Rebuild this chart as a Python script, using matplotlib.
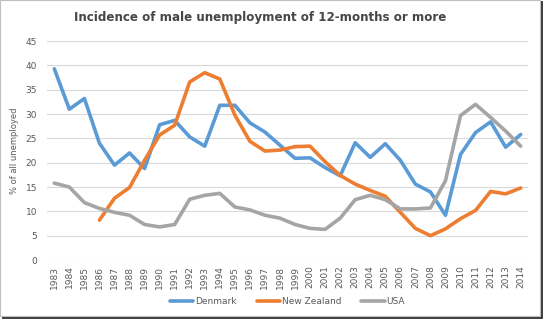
import matplotlib.pyplot as plt
from matplotlib.patches import Rectangle

years = list(range(1983, 2015))

denmark = [39.3, 31.0, 33.2, 24.0, 19.5, 22.0, 18.8, 27.8, 28.7, 25.3,
           23.4, 31.8, 31.8, 28.2, 26.3, 23.6, 20.9, 21.0, 19.0, 17.3,
           24.1, 21.1, 23.9, 20.5, 15.6, 14.0, 9.2, 21.7, 26.2, 28.4,
           23.2, 25.8]

nz_years = list(range(1986, 2015))
new_zealand = [8.2, 12.7, 14.9, 20.5, 25.7, 27.7, 36.6, 38.5, 37.2, 29.8,
               24.4, 22.4, 22.6, 23.3, 23.4, 20.2, 17.4, 15.6, 14.3, 13.1,
               9.8, 6.5, 5.0, 6.4, 8.5, 10.2, 14.1, 13.6, 14.8]

usa = [15.8, 15.0, 11.8, 10.6, 9.8, 9.2, 7.3, 6.8, 7.3, 12.5,
       13.3, 13.7, 10.9, 10.3, 9.2, 8.6, 7.3, 6.5, 6.3, 8.6,
       12.4, 13.3, 12.4, 10.5, 10.5, 10.7, 16.3, 29.7, 32.0, 29.3,
       26.5, 23.4]

fig = plt.figure(figsize=(5.44, 3.21), dpi=100)
ax = fig.add_axes([0.086, 0.19, 0.885, 0.682])

ax.plot(years, denmark, color='#5B9BD5', lw=2.6, label='Denmark', solid_capstyle='round')
ax.plot(nz_years, new_zealand, color='#ED7D31', lw=2.6, label='New Zealand', solid_capstyle='round')
ax.plot(years, usa, color='#A5A5A5', lw=2.6, label='USA', solid_capstyle='round')

ax.set_xlim(1982.5, 2014.5)
ax.set_ylim(0, 45)
ax.set_yticks(range(0, 50, 5))
ax.set_xticks(years)
ax.set_xticklabels([str(y) for y in years], rotation=90, fontsize=6.5, color='#595959')
ax.tick_params(axis='y', labelsize=6.5, labelcolor='#595959', length=0, pad=7)
ax.tick_params(axis='x', length=0, pad=4)
ax.grid(axis='y', color='#D9D9D9', lw=0.8)
ax.set_axisbelow(True)
for s in ax.spines.values():
    s.set_visible(False)

ax.set_ylabel('% of all unemployed', fontsize=6, color='#595959', labelpad=5)
fig.suptitle('Incidence of male unemployment of 12-months or more', x=0.478, y=0.965,
             fontsize=8.6, fontweight='bold', color='#474747')

ax.legend(loc='center', bbox_to_anchor=(0.5, -0.188), ncol=3, frameon=False,
          fontsize=6.5, labelcolor='#595959', handlelength=2.6, columnspacing=2.2,
          handletextpad=0.2, borderaxespad=0)

# frame with shadow
fig.patches.append(Rectangle((0.004, 0.006), 0.994, 0.991, transform=fig.transFigure,
                             facecolor='#404040', edgecolor='none', zorder=-2))
fig.patches.append(Rectangle((0.0, 0.015), 0.992, 0.985, transform=fig.transFigure,
                             facecolor='white', edgecolor='#BFBFBF', lw=0.8, zorder=-1))

fig.savefig('out.png', dpi=100)
